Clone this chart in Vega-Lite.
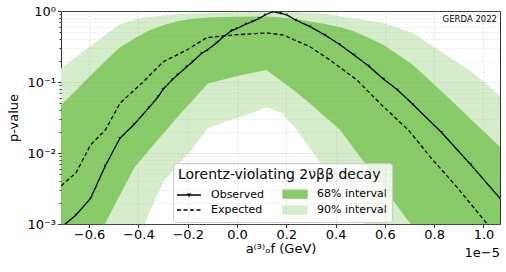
{
  "$schema": "https://vega.github.io/schema/vega-lite/v6.json",
  "width": 439,
  "height": 213,
  "autosize": {"type": "none"},
  "padding": {"left": 61, "top": 11, "right": 6, "bottom": 48},
  "background": "white",
  "config": {
    "font": "DejaVu Sans",
    "view": {"stroke": "#333333", "strokeWidth": 1},
    "axis": {"labelFont": "DejaVu Sans", "titleFont": "DejaVu Sans", "labelColor": "black", "titleColor": "black", "titleFontWeight": "normal", "domain": false, "tickColor": "#333333"}
  },
  "title": {"text": "1e−5", "orient": "bottom", "anchor": "end", "frame": "group", "offset": -9, "fontSize": 13, "fontWeight": "normal", "font": "DejaVu Sans", "color": "black"},
  "datasets": {
    "b90": [
      {"s": "90% interval", "x": -0.714, "lo": 5e-6, "p": 0.156},
      {"s": "90% interval", "x": -0.654, "lo": 1e-5, "p": 0.223},
      {"s": "90% interval", "x": -0.595, "lo": 1.5e-5, "p": 0.319},
      {"s": "90% interval", "x": -0.535, "lo": 4e-5, "p": 0.458},
      {"s": "90% interval", "x": -0.476, "lo": 1.4e-4, "p": 0.645},
      {"s": "90% interval", "x": -0.416, "lo": 4.4e-4, "p": 0.759},
      {"s": "90% interval", "x": -0.357, "lo": 1.41e-3, "p": 0.823},
      {"s": "90% interval", "x": -0.297, "lo": 4.03e-3, "p": 0.864},
      {"s": "90% interval", "x": -0.238, "lo": 6.89e-3, "p": 0.899},
      {"s": "90% interval", "x": -0.178, "lo": 0.0118, "p": 0.922},
      {"s": "90% interval", "x": -0.119, "lo": 0.0225, "p": 0.937},
      {"s": "90% interval", "x": -0.059, "lo": 0.0265, "p": 0.953},
      {"s": "90% interval", "x": 0.0, "lo": 0.0311, "p": 0.962},
      {"s": "90% interval", "x": 0.06, "lo": 0.0366, "p": 0.968},
      {"s": "90% interval", "x": 0.119, "lo": 0.0445, "p": 0.975},
      {"s": "90% interval", "x": 0.179, "lo": 0.0372, "p": 0.968},
      {"s": "90% interval", "x": 0.238, "lo": 0.0221, "p": 0.959},
      {"s": "90% interval", "x": 0.298, "lo": 0.0114, "p": 0.946},
      {"s": "90% interval", "x": 0.357, "lo": 5.86e-3, "p": 0.907},
      {"s": "90% interval", "x": 0.417, "lo": 3.01e-3, "p": 0.851},
      {"s": "90% interval", "x": 0.476, "lo": 1.55e-3, "p": 0.784},
      {"s": "90% interval", "x": 0.536, "lo": 7.97e-4, "p": 0.735},
      {"s": "90% interval", "x": 0.595, "lo": 4.04e-4, "p": 0.678},
      {"s": "90% interval", "x": 0.655, "lo": 2.11e-4, "p": 0.576},
      {"s": "90% interval", "x": 0.714, "lo": 1.1e-4, "p": 0.49},
      {"s": "90% interval", "x": 0.774, "lo": 5.8e-5, "p": 0.357},
      {"s": "90% interval", "x": 0.833, "lo": 3e-5, "p": 0.261},
      {"s": "90% interval", "x": 0.893, "lo": 1.6e-5, "p": 0.191},
      {"s": "90% interval", "x": 0.952, "lo": 8e-6, "p": 0.14},
      {"s": "90% interval", "x": 1.012, "lo": 4e-6, "p": 0.0938},
      {"s": "90% interval", "x": 1.071, "lo": 2e-6, "p": 0.0605}
    ],
    "b68": [
      {"s": "68% interval", "x": -0.714, "lo": 7.0e-5, "p": 0.0474},
      {"s": "68% interval", "x": -0.654, "lo": 1.68e-4, "p": 0.0762},
      {"s": "68% interval", "x": -0.595, "lo": 4.17e-4, "p": 0.122},
      {"s": "68% interval", "x": -0.535, "lo": 1.02e-3, "p": 0.196},
      {"s": "68% interval", "x": -0.476, "lo": 2.51e-3, "p": 0.306},
      {"s": "68% interval", "x": -0.416, "lo": 6.25e-3, "p": 0.41},
      {"s": "68% interval", "x": -0.357, "lo": 0.011, "p": 0.531},
      {"s": "68% interval", "x": -0.297, "lo": 0.0191, "p": 0.635},
      {"s": "68% interval", "x": -0.238, "lo": 0.0332, "p": 0.723},
      {"s": "68% interval", "x": -0.178, "lo": 0.0557, "p": 0.777},
      {"s": "68% interval", "x": -0.119, "lo": 0.0953, "p": 0.81},
      {"s": "68% interval", "x": -0.059, "lo": 0.108, "p": 0.823},
      {"s": "68% interval", "x": 0.0, "lo": 0.121, "p": 0.831},
      {"s": "68% interval", "x": 0.06, "lo": 0.134, "p": 0.837},
      {"s": "68% interval", "x": 0.119, "lo": 0.148, "p": 0.837},
      {"s": "68% interval", "x": 0.179, "lo": 0.104, "p": 0.81},
      {"s": "68% interval", "x": 0.238, "lo": 0.0728, "p": 0.771},
      {"s": "68% interval", "x": 0.298, "lo": 0.0493, "p": 0.711},
      {"s": "68% interval", "x": 0.357, "lo": 0.0324, "p": 0.656},
      {"s": "68% interval", "x": 0.417, "lo": 0.0214, "p": 0.595},
      {"s": "68% interval", "x": 0.476, "lo": 0.0114, "p": 0.515},
      {"s": "68% interval", "x": 0.536, "lo": 6.01e-3, "p": 0.417},
      {"s": "68% interval", "x": 0.595, "lo": 3.21e-3, "p": 0.332},
      {"s": "68% interval", "x": 0.655, "lo": 1.7e-3, "p": 0.24},
      {"s": "68% interval", "x": 0.714, "lo": 9.07e-4, "p": 0.174},
      {"s": "68% interval", "x": 0.774, "lo": 4.74e-4, "p": 0.112},
      {"s": "68% interval", "x": 0.833, "lo": 2.56e-4, "p": 0.0723},
      {"s": "68% interval", "x": 0.893, "lo": 1.34e-4, "p": 0.0459},
      {"s": "68% interval", "x": 0.952, "lo": 7.2e-5, "p": 0.0292},
      {"s": "68% interval", "x": 1.012, "lo": 3.8e-5, "p": 0.0185},
      {"s": "68% interval", "x": 1.071, "lo": 2.0e-5, "p": 0.0118}
    ],
    "obs": [
      {"s": "Observed", "x": -0.714, "p": 0.00089},
      {"s": "Observed", "x": -0.653, "p": 0.00134},
      {"s": "Observed", "x": -0.594, "p": 0.0023},
      {"s": "Observed", "x": -0.534, "p": 0.0066},
      {"s": "Observed", "x": -0.475, "p": 0.0161},
      {"s": "Observed", "x": -0.417, "p": 0.0254},
      {"s": "Observed", "x": -0.357, "p": 0.0435},
      {"s": "Observed", "x": -0.32, "p": 0.062},
      {"s": "Observed", "x": -0.3, "p": 0.079},
      {"s": "Observed", "x": -0.261, "p": 0.109},
      {"s": "Observed", "x": -0.241, "p": 0.126},
      {"s": "Observed", "x": -0.204, "p": 0.164},
      {"s": "Observed", "x": -0.18, "p": 0.193},
      {"s": "Observed", "x": -0.143, "p": 0.254},
      {"s": "Observed", "x": -0.12, "p": 0.282},
      {"s": "Observed", "x": -0.082, "p": 0.358},
      {"s": "Observed", "x": -0.058, "p": 0.426},
      {"s": "Observed", "x": -0.022, "p": 0.528},
      {"s": "Observed", "x": 0.001, "p": 0.57},
      {"s": "Observed", "x": 0.037, "p": 0.656},
      {"s": "Observed", "x": 0.062, "p": 0.707},
      {"s": "Observed", "x": 0.09, "p": 0.789},
      {"s": "Observed", "x": 0.114, "p": 0.879},
      {"s": "Observed", "x": 0.145, "p": 0.977},
      {"s": "Observed", "x": 0.177, "p": 0.929},
      {"s": "Observed", "x": 0.202, "p": 0.879},
      {"s": "Observed", "x": 0.238, "p": 0.747},
      {"s": "Observed", "x": 0.296, "p": 0.601},
      {"s": "Observed", "x": 0.357, "p": 0.459},
      {"s": "Observed", "x": 0.415, "p": 0.34},
      {"s": "Observed", "x": 0.475, "p": 0.24},
      {"s": "Observed", "x": 0.534, "p": 0.168},
      {"s": "Observed", "x": 0.594, "p": 0.11},
      {"s": "Observed", "x": 0.652, "p": 0.077},
      {"s": "Observed", "x": 0.713, "p": 0.0485},
      {"s": "Observed", "x": 0.83, "p": 0.0194},
      {"s": "Observed", "x": 0.949, "p": 0.0068},
      {"s": "Observed", "x": 1.067, "p": 0.0023}
    ],
    "exp": [
      {"s": "Expected", "x": -0.714, "p": 0.00343},
      {"s": "Expected", "x": -0.653, "p": 0.00528},
      {"s": "Expected", "x": -0.594, "p": 0.013},
      {"s": "Expected", "x": -0.534, "p": 0.0211},
      {"s": "Expected", "x": -0.475, "p": 0.0501},
      {"s": "Expected", "x": -0.38, "p": 0.101},
      {"s": "Expected", "x": -0.299, "p": 0.193},
      {"s": "Expected", "x": -0.204, "p": 0.282},
      {"s": "Expected", "x": -0.123, "p": 0.421},
      {"s": "Expected", "x": -0.015, "p": 0.459},
      {"s": "Expected", "x": 0.093, "p": 0.485},
      {"s": "Expected", "x": 0.114, "p": 0.495},
      {"s": "Expected", "x": 0.188, "p": 0.459},
      {"s": "Expected", "x": 0.296, "p": 0.314},
      {"s": "Expected", "x": 0.377, "p": 0.204},
      {"s": "Expected", "x": 0.486, "p": 0.107},
      {"s": "Expected", "x": 0.594, "p": 0.0449},
      {"s": "Expected", "x": 0.695, "p": 0.0211},
      {"s": "Expected", "x": 0.729, "p": 0.0152},
      {"s": "Expected", "x": 0.783, "p": 0.00887},
      {"s": "Expected", "x": 0.891, "p": 0.00335},
      {"s": "Expected", "x": 1.013, "p": 0.00102},
      {"s": "Expected", "x": 1.067, "p": 0.00059}
    ],
    "ref": [{"p": 0.1}],
    "note": [{"x": 1.055, "p": 0.77, "t": "GERDA 2022"}]
  },
  "encoding": {
    "x": {
      "field": "x", "type": "quantitative",
      "scale": {"domain": [-0.714, 1.067], "nice": false, "zero": false},
      "axis": {
        "title": "a⁽³⁾ₒf (GeV)", "titleFontSize": 13, "titlePadding": 1,
        "values": [-0.6, -0.4, -0.2, 0, 0.2, 0.4, 0.6, 0.8, 1.0],
        "labelExpr": "replace(format(datum.value, '.1f'), '-', '−')",
        "labelFontSize": 13, "labelPadding": 1, "tickSize": 3.5, "labelFlush": false,
        "grid": true, "gridColor": "#b0b0b0", "gridOpacity": 0.45, "gridDash": [2, 2], "gridWidth": 0.8,
        "zindex": 1
      }
    },
    "y": {
      "field": "p", "type": "quantitative",
      "scale": {"type": "log", "domain": [0.001, 1], "nice": false},
      "axis": {
        "title": "p-value", "titleFontSize": 13, "titlePadding": 6,
        "values": [0.001, 0.002, 0.003, 0.004, 0.005, 0.006, 0.007, 0.008, 0.009, 0.01, 0.02, 0.03, 0.04, 0.05, 0.06, 0.07, 0.08, 0.09, 0.1, 0.2, 0.3, 0.4, 0.5, 0.6, 0.7, 0.8, 0.9, 1],
        "labelExpr": "datum.value == 1 ? '10⁰' : datum.value == 0.1 ? '10⁻¹' : datum.value == 0.01 ? '10⁻²' : datum.value == 0.001 ? '10⁻³' : ''",
        "labelFontSize": 13, "labelPadding": 2,
        "tickSize": {"condition": {"test": "datum.value == 1 || datum.value == 0.1 || datum.value == 0.01 || datum.value == 0.001", "value": 3.5}, "value": 2},
        "gridColor": {"condition": {"test": "datum.value == 1 || datum.value == 0.1 || datum.value == 0.01 || datum.value == 0.001", "value": "#a0a0a0"}, "value": "#c0c0c0"},
        "grid": true, "gridOpacity": 0.45, "gridDash": [2, 2], "gridWidth": 0.8,
        "labelOverlap": false, "zindex": 1
      }
    }
  },
  "layer": [
    {
      "data": {"name": "b90"},
      "mark": {"type": "area", "clip": true, "opacity": 1},
      "encoding": {
        "y2": {"field": "lo"},
        "color": {
          "field": "s", "type": "nominal",
          "scale": {"domain": ["Observed", "Expected", "68% interval", "90% interval"], "range": ["black", "black", "#86cb66", "#d5edcb"]},
          "legend": {
            "title": "Lorentz-violating 2νββ decay",
            "orient": "none", "legendX": 112, "legendY": 152,
            "columns": 2, "columnPadding": 16, "rowPadding": 2,
            "titleFontSize": 14, "titleFont": "DejaVu Sans", "titleFontWeight": "normal", "titleColor": "black", "titlePadding": 5, "titleLimit": 400,
            "labelFontSize": 11, "labelFont": "DejaVu Sans", "labelColor": "black", "labelOffset": 15,
            "padding": 5, "fillColor": "rgba(255,255,255,0.85)", "strokeColor": "#cccccc", "cornerRadius": 3,
            "symbolSize": 144, "symbolStrokeWidth": 1.3, "symbolOffset": 4,
            "symbolType": {"expr": "datum.value == 'Observed' ? 'M-2,0H2M-0.2,-0.16L0.2,-0.16L0,0.2Z' : datum.value == 'Expected' ? 'M-2,0H-1.33M-0.92,0H-0.25M0.17,0H0.83M1.25,0H1.92' : 'M-2,-0.67H2V0.67H-2Z'"},
            "encode": {
              "symbols": {
                "update": {
                  "shape": {"signal": "datum.value == 'Observed' ? 'M-2,0H2M-0.2,-0.16L0.2,-0.16L0,0.2Z' : datum.value == 'Expected' ? 'M-2,0H-1.33M-0.92,0H-0.25M0.17,0H0.83M1.25,0H1.92' : 'M-2,-0.67H2V0.67H-2Z'"},
                  "fill": {"signal": "datum.value == '68% interval' ? '#86cb66' : datum.value == '90% interval' ? '#d5edcb' : 'black'"},
                  "stroke": {"signal": "datum.value == '68% interval' ? '#86cb66' : datum.value == '90% interval' ? '#d5edcb' : 'black'"},
                  "strokeWidth": {"value": 1.3},
                  "opacity": {"value": 1},
                  "fillOpacity": {"value": 1},
                  "size": {"value": 144}
                }
              }
            }
          }
        }
      }
    },
    {
      "data": {"name": "b68"},
      "mark": {"type": "area", "clip": true, "opacity": 1},
      "encoding": {
        "y2": {"field": "lo"},
        "color": {"field": "s", "type": "nominal"}
      }
    },
    {
      "data": {"name": "ref"},
      "mark": {"type": "rule", "color": "black", "strokeDash": [1, 1.5], "strokeWidth": 1},
      "encoding": {"y": {"field": "p", "type": "quantitative"}}
    },
    {
      "data": {"name": "exp"},
      "mark": {"type": "line", "clip": true, "strokeDash": [4, 2.5], "strokeWidth": 1.3},
      "encoding": {
        "color": {"field": "s", "type": "nominal"}
      }
    },
    {
      "data": {"name": "obs"},
      "mark": {"type": "line", "clip": true, "strokeWidth": 1.3},
      "encoding": {
        "color": {"field": "s", "type": "nominal"}
      }
    },
    {
      "data": {"name": "obs"},
      "mark": {"type": "point", "clip": true, "shape": "triangle-down", "size": 9, "filled": true, "color": "black", "opacity": 1},
      "encoding": {}
    },
    {
      "data": {"name": "note"},
      "mark": {"type": "text", "align": "right", "baseline": "middle", "fontSize": 8.5, "font": "DejaVu Sans", "color": "black"},
      "encoding": {
        "text": {"field": "t"}
      }
    }
  ],
  "resolve": {"scale": {"y": "shared", "color": "shared"}}
}
